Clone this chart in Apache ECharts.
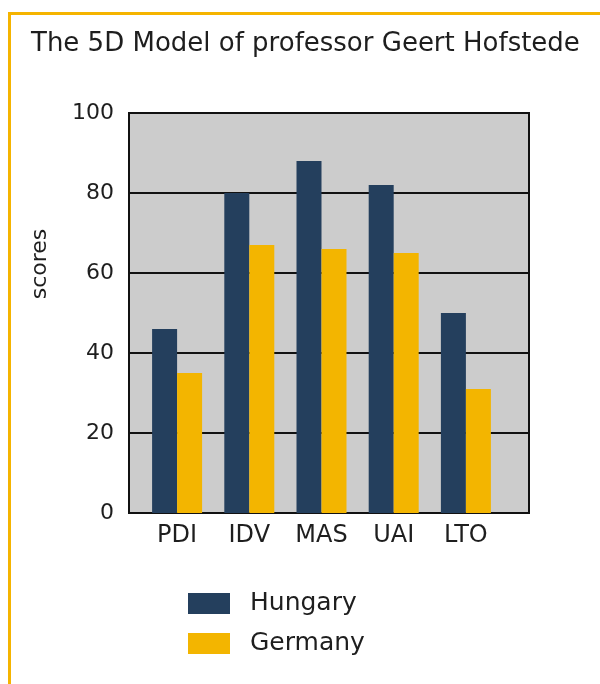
<!DOCTYPE html>
<html>
<head>
<meta charset="utf-8">
<script src="https://cdn.jsdelivr.net/npm/echarts@6/dist/echarts.min.js"></script>
<style>
html,body{margin:0;padding:0;background:#fff;}
#chart{width:600px;height:684px;}
</style>
</head>
<body>
<div id="chart"></div>
<script>
var titleText = 'The 5D Model of professor Geert Hofstede';
var categories = ['PDI', 'IDV', 'MAS', 'UAI', 'LTO'];
var hungary = [46, 80, 88, 82, 50];
var germany = [35, 67, 66, 65, 31];
var seriesNames = ['Hungary', 'Germany'];
var yTicks = [0, 20, 40, 60, 80, 100];
var yAxisName = 'scores';

var FONT = 'DejaVu Sans';
var chart = echarts.init(document.getElementById('chart'), null, {renderer: 'canvas'});
chart.setOption({
  animation: false,
  backgroundColor: '#ffffff',
  title: {
    text: titleText, left: 31, top: 31, padding: 0,
    textStyle: {fontFamily: FONT, fontSize: 26, fontWeight: 'normal', color: '#1e1e1e'}
  },
  legend: {
    orient: 'vertical', left: 188, top: 591, padding: 0,
    itemWidth: 42, itemHeight: 21, itemGap: 15, icon: 'rect',
    data: seriesNames,
    textStyle: {fontFamily: FONT, fontSize: 25, color: '#1e1e1e', padding: [0, 0, 0, 15]}
  },
  grid: [
    {left: 129, right: 71, top: 113, bottom: 171, show: true, backgroundColor: '#cccccc', borderColor: '#111', borderWidth: 2, containLabel: false},
    {left: 141, right: 98, top: 113, bottom: 171, containLabel: false}
  ],
  xAxis: [
    {gridIndex: 0, type: 'value', min: 0, max: 1, show: false},
    {gridIndex: 1, type: 'category', data: categories,
     axisLine: {show: false}, axisTick: {show: false},
     axisLabel: {fontFamily: FONT, fontSize: 24, color: '#1e1e1e', margin: 11}}
  ],
  yAxis: [
    {gridIndex: 0, type: 'value', min: yTicks[0], max: yTicks[yTicks.length - 1], interval: yTicks[1] - yTicks[0],
     axisLine: {show: false}, axisTick: {show: false},
     axisLabel: {fontFamily: FONT, fontSize: 22, color: '#1e1e1e', margin: 15},
     splitLine: {show: true, lineStyle: {color: '#111', width: 2}}},
    {gridIndex: 1, type: 'value', min: yTicks[0], max: yTicks[yTicks.length - 1], show: false}
  ],
  graphic: [
    {type: 'rect', shape: {x: 8, y: 12, width: 592, height: 3}, style: {fill: '#f5b400'}, silent: true},
    {type: 'rect', shape: {x: 8, y: 12, width: 3, height: 672}, style: {fill: '#f5b400'}, silent: true},
    {type: 'text', x: 40, y: 264, rotation: Math.PI / 2,
     style: {text: yAxisName, fontFamily: FONT, fontSize: 22, fill: '#1e1e1e', textAlign: 'center', textVerticalAlign: 'middle'}}
  ],
  series: [
    {name: seriesNames[0], type: 'bar', xAxisIndex: 1, yAxisIndex: 1, data: hungary, barWidth: 25, barGap: '0%',
     itemStyle: {color: '#243f5d'}},
    {name: seriesNames[1], type: 'bar', xAxisIndex: 1, yAxisIndex: 1, data: germany, barWidth: 25, barGap: '0%',
     itemStyle: {color: '#f3b500'}}
  ]
});
</script>
</body>
</html>
